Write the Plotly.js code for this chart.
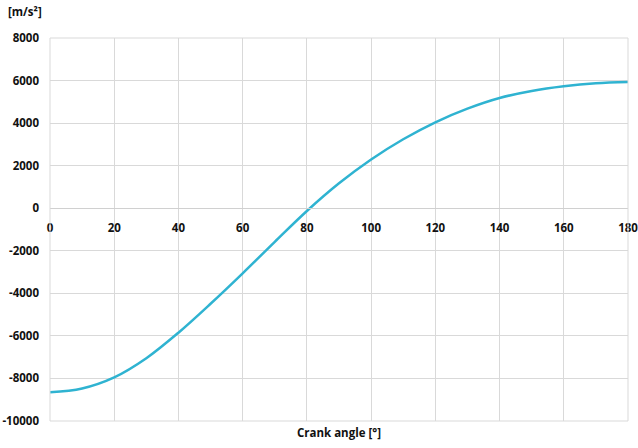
<!DOCTYPE html>
<html>
<head>
<meta charset="utf-8">
<script src="https://cdn.plot.ly/plotly-3.0.1.min.js"></script>
<style>html,body{margin:0;padding:0;background:#fff;}#chart{width:638px;height:448px;}</style>
</head>
<body>
<div id="chart"></div>
<script>
const crankAngle = [0, 10, 20, 30, 40, 50, 60, 70, 80, 90, 100, 110, 120, 130, 140, 150, 160, 170, 180];
const acceleration = [-8650, -8470, -7950, -7050, -5850, -4490, -3060, -1580, -130, 1170, 2290, 3240, 4040, 4680, 5180, 5510, 5730, 5870, 5930];
const yTicks = [8000, 6000, 4000, 2000, 0, -2000, -4000, -6000, -8000, -10000];
const xTicks = [0, 20, 40, 60, 80, 100, 120, 140, 160, 180];
const yUnit = "[m/s²]";
const xTitle = "Crank angle [°]";

const tickFont = {family: "Open Sans, Liberation Sans, sans-serif", size: 11.5, color: "#111111", weight: "bold"};
const yMin = -10000, yMax = 8000;

Plotly.newPlot("chart", [{
  x: crankAngle,
  y: acceleration,
  type: "scatter",
  mode: "lines",
  line: {color: "#2fb3d1", width: 2.5, shape: "spline", smoothing: 1},
  hoverinfo: "skip"
}], {
  width: 638, height: 448,
  margin: {l: 50, r: 10, t: 38, b: 27},
  paper_bgcolor: "#ffffff", plot_bgcolor: "#ffffff",
  showlegend: false,
  xaxis: {
    range: [0, 180],
    tickvals: xTicks,
    ticktext: xTicks.map(String),
    showgrid: true, gridcolor: "#d9d9d9", gridwidth: 1,
    zeroline: false,
    showline: true, linecolor: "#d0d0d0", linewidth: 1,
    anchor: "free",
    position: (0 - yMin) / (yMax - yMin),
    ticks: "", ticklabelstandoff: 9,
    ticklabeloverflow: "allow",
    tickfont: tickFont
  },
  yaxis: {
    range: [yMin, yMax],
    tickvals: yTicks,
    ticktext: yTicks.map(String),
    showgrid: true, gridcolor: "#d9d9d9", gridwidth: 1,
    zeroline: false, showline: false,
    ticks: "", ticklabelstandoff: 10,
    ticklabeloverflow: "allow",
    tickfont: tickFont
  },
  shapes: [
    {type: "line", xref: "paper", yref: "paper", x0: 0, x1: 0, y0: 0, y1: 1, line: {color: "#d9d9d9", width: 1}},
    {type: "line", xref: "paper", yref: "paper", x0: 1, x1: 1, y0: 0, y1: 1, line: {color: "#d9d9d9", width: 1}},
    {type: "line", xref: "paper", yref: "paper", x0: 0, x1: 1, y0: 0, y1: 0, line: {color: "#d9d9d9", width: 1}},
    {type: "line", xref: "paper", yref: "paper", x0: 0, x1: 1, y0: 1, y1: 1, line: {color: "#d9d9d9", width: 1}}
  ],
  annotations: [
    {text: yUnit, xref: "paper", yref: "paper", x: -0.076, y: 1.045, xanchor: "left", yanchor: "bottom", showarrow: false,
     font: {family: "Open Sans, Liberation Sans, sans-serif", size: 11.5, color: "#111111", weight: "bold"}},
    {text: xTitle, xref: "paper", yref: "paper", x: 0.5, y: -0.005, xanchor: "center", yanchor: "top", showarrow: false,
     font: {family: "Open Sans, Liberation Sans, sans-serif", size: 11.5, color: "#111111", weight: "bold"}}
  ]
}, {displayModeBar: false, staticPlot: true});
</script>
</body>
</html>
